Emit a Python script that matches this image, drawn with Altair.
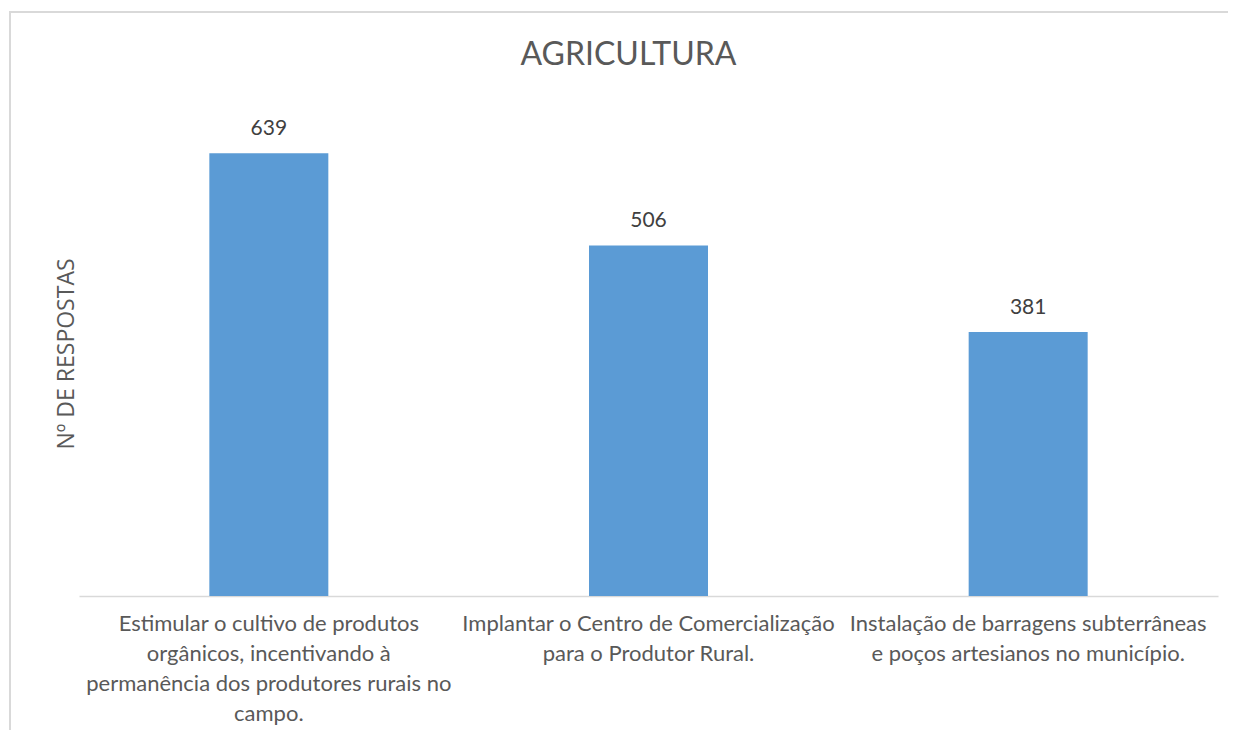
import altair as alt
import pandas as pd

categories = [
    "Estimular o cultivo de produtos|orgânicos, incentivando à|permanência dos produtores rurais no|campo.",
    "Implantar o Centro de Comercialização|para o Produtor Rural.",
    "Instalação de barragens subterrâneas|e poços artesianos no município.",
]
values = [639, 506, 381]

df = pd.DataFrame({"cat": categories, "val": values})

FONT = "Lato"
GREY = "#595959"
FRAME = "#d9d9d9"

x = alt.X(
    "cat:N",
    sort=categories,
    title=None,
    scale=alt.Scale(paddingInner=0, paddingOuter=0),
    axis=alt.Axis(
        labelExpr="split(datum.value, '|')",
        labelAngle=0,
        labelOverlap=False,
        labelLimit=0,
        labelFont=FONT,
        labelFontSize=22,
        labelColor=GREY,
        labelLineHeight=30,
        labelPadding=17,
        labelBaseline="top",
        ticks=False,
        domainColor=FRAME,
        domainWidth=1.5,
    ),
)
y = alt.Y(
    "val:Q",
    scale=alt.Scale(domain=[0, 700]),
    axis=alt.Axis(
        title="Nº DE RESPOSTAS",
        titleFont="Open Sans",
        titleFontSize=23,
        titleFontWeight="normal",
        titleColor=GREY,
        titlePadding=1,
        labels=False,
        ticks=False,
        domain=False,
        grid=False,
    ),
)

base = alt.Chart(df)
bars = base.mark_bar(size=119, color="#5b9bd5").encode(x=x, y=y)
text = base.mark_text(dy=-14, baseline="bottom", font=FONT, fontSize=21, color="#404040").encode(
    x=alt.X("cat:N", sort=categories), y="val:Q", text="val:Q"
)
frame_top = alt.Chart(df).mark_rule(color=FRAME, strokeWidth=2).encode(
    x=alt.value(-69), x2=alt.value(1160), y=alt.value(-99)
)
frame_left = alt.Chart(df).mark_rule(color=FRAME, strokeWidth=2).encode(
    x=alt.value(-69), y=alt.value(-100), y2=alt.value(700)
)

chart = (
    alt.layer(frame_top, frame_left, bars, text)
    .properties(
        width=1139,
        height=485,
        title=alt.TitleParams(
            "AGRICULTURA",
            font=FONT,
            fontSize=32,
            fontWeight="normal",
            color=GREY,
            anchor="middle",
            dx=-20,
            offset=-62,
        ),
        autosize=alt.AutoSizeParams(type="none"),
        padding={"left": 71, "top": 103, "right": 10, "bottom": 134},
    )
    .configure_view(stroke=None)
)

chart.save("out.html", embed_options={"renderer": "svg", "actions": False})
